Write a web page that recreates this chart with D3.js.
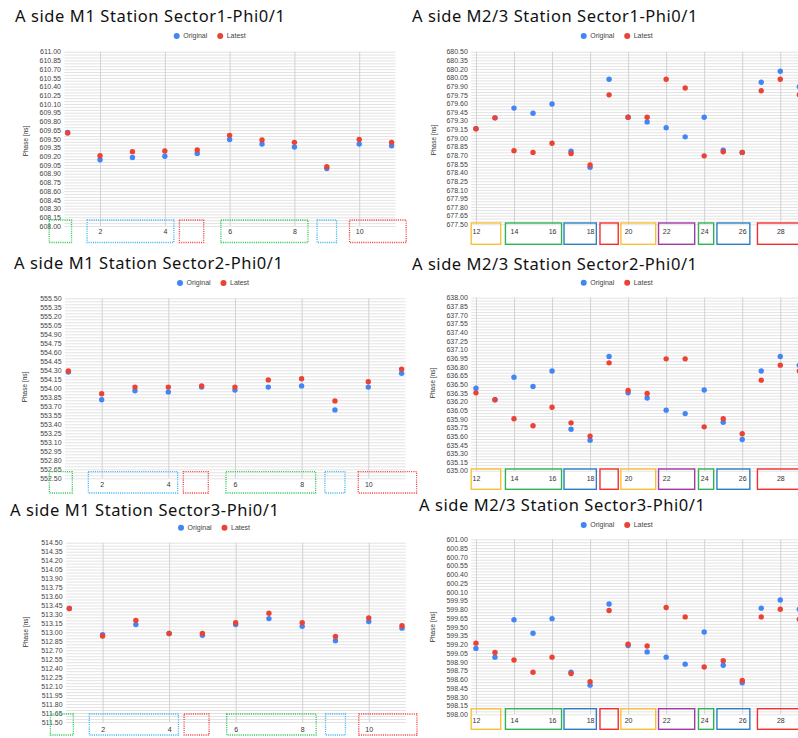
<!DOCTYPE html>
<html>
<head>
<meta charset="utf-8">
<script src="https://cdn.jsdelivr.net/npm/d3@7"></script>
<style>
  html, body { margin: 0; padding: 0; background: #fff; }
  svg { display: block; }
  .tick-y text { font-family: "Liberation Sans", Arial, sans-serif; font-size: 7px; fill: #444; }
  .tick-x text { font-family: "Liberation Sans", Arial, sans-serif; font-size: 7px; fill: #333; }
  .legend text { font-family: "Liberation Sans", Arial, sans-serif; font-size: 7px; fill: #444; }
  .ytitle { font-family: "Liberation Sans", Arial, sans-serif; font-size: 6.5px; fill: #333; }
  .title { font-family: "Noto Sans", sans-serif; font-size: 16.5px; fill: #111; }
</style>
</head>
<body>
<svg id="chart" width="798" height="738"></svg>
<script>
// ---- channels (x categories) ----
const channelsM1  = [1, 2, 3, 4, 5, 6, 7, 8, 9, 10, 11];
const channelsM23 = [12, 13, 14, 15, 16, 17, 18, 19, 20, 21, 22, 23, 24, 25, 26, 27, 28, 29];

// ---- x tick labels ----
const xTicksM1  = [2, 4, 6, 8, 10];
const xTicksM23 = [12, 14, 16, 18, 20, 22, 24, 26, 28];

// ---- phase values [ns] ----
const m1s1Original = [609.61, 609.14, 609.18, 609.20, 609.25, 609.49, 609.41, 609.36, 608.99, 609.41, 609.38];
const m1s1Latest   = [609.60, 609.21, 609.28, 609.29, 609.31, 609.56, 609.48, 609.44, 609.02, 609.49, 609.44];

const m23s1Original = [679.16, 679.35, 679.52, 679.43, 679.59, 678.77, 678.49, 680.02, 679.36, 679.28, 679.18, 679.02, 679.36, 678.79, 678.75, 679.97, 680.16, 679.89];
const m23s1Latest   = [679.16, 679.35, 678.78, 678.75, 678.91, 678.73, 678.53, 679.75, 679.36, 679.36, 680.02, 679.87, 678.69, 678.76, 678.75, 679.82, 680.02, 679.75];

const m1s2Original = [554.27, 553.81, 553.96, 553.94, 554.02, 553.97, 554.02, 554.04, 553.64, 554.02, 554.25];
const m1s2Latest   = [554.29, 553.91, 554.02, 554.02, 554.04, 554.02, 554.14, 554.16, 553.79, 554.11, 554.32];

const m23s2Original = [636.43, 636.23, 636.62, 636.46, 636.73, 635.72, 635.53, 636.98, 636.35, 636.26, 636.05, 635.99, 636.40, 635.84, 635.54, 636.73, 636.98, 636.83];
const m23s2Latest   = [636.35, 636.23, 635.90, 635.78, 636.10, 635.83, 635.60, 636.87, 636.39, 636.34, 636.94, 636.94, 635.76, 635.90, 635.64, 636.57, 636.83, 636.73];

const m1s3Original = [513.40, 512.96, 513.13, 512.98, 512.95, 513.13, 513.23, 513.10, 512.86, 513.18, 513.07];
const m1s3Latest   = [513.40, 512.94, 513.20, 512.98, 512.98, 513.16, 513.32, 513.16, 512.93, 513.24, 513.11];

const m23s3Original = [599.13, 598.98, 599.62, 599.39, 599.64, 598.72, 598.50, 599.89, 599.18, 599.07, 598.98, 598.86, 599.41, 598.84, 598.54, 599.82, 599.96, 599.80];
const m23s3Latest   = [599.22, 599.06, 598.93, 598.72, 598.98, 598.70, 598.56, 599.78, 599.20, 599.17, 599.83, 599.67, 598.81, 598.92, 598.58, 599.67, 599.80, 599.63];

// ---- y ranges [ns] and tick steps ----
const yRangeM1S1  = [608.00, 611.00];
const yRangeM23S1 = [677.50, 680.50];
const yRangeM1S2  = [552.50, 555.50];
const yRangeM23S2 = [635.00, 638.00];
const yRangeM1S3  = [511.50, 514.50];
const yRangeM23S3 = [598.00, 601.00];
const yLabelStep = 0.15;
const yGridStep  = 0.05;

// ---- channel groupings outlined under the x axis (channel ranges) ----
const groupsM1  = [[0.43, 1.12], [1.6, 4.28], [4.45, 5.2], [5.73, 8.42], [8.7, 9.3], [9.7, 11.45]];
const groupsM23 = [[11.75, 13.3], [13.55, 16.5], [16.63, 18.33], [18.52, 19.48], [19.62, 21.45],
                   [21.6, 23.5], [23.7, 24.5], [24.67, 26.4], [26.8, 30.5]];

// ---- styles ----
const colorOriginal = "#4285f4";
const colorLatest   = "#ea4335";
const groupColorsM1  = ["#35c759", "#45b8f0", "#f24848", "#35c759", "#45b8f0", "#f24848"];
const groupColorsM23 = ["#f8c13a", "#2fb454", "#2f7fc4", "#f52f2f", "#f8c13a", "#a03aa6", "#2fb454", "#2f7fc4", "#f52f2f"];

const panels = [
  { title: "A side M1 Station Sector1-Phi0/1", x: channelsM1, orig: m1s1Original, latest: m1s1Latest,
    yRange: yRangeM1S1, xTicks: xTicksM1, groups: groupsM1, groupColors: groupColorsM1, dotted: true,
    xDomain: [0.9, 11.12],
    L: 64.4, R: 395.5, T: 51.7, B: 226, labelY: 231.7, boxY: [220, 242.5],
    titleX: 15, titleY: 21.7, titleW: 270, legendX: 176.7, legendY: 36, yTitleX: 26, yTitleY: 141 },
  { title: "A side M2/3 Station Sector1-Phi0/1", x: channelsM23, orig: m23s1Original, latest: m23s1Latest,
    yRange: yRangeM23S1, xTicks: xTicksM23, groups: groupsM23, groupColors: groupColorsM23, dotted: false,
    xDomain: [11.75, 29.3],
    L: 471.2, R: 805, T: 51.7, B: 224.3, labelY: 231.7, boxY: [223, 244.3],
    titleX: 412, titleY: 21.7, titleW: 285.5, legendX: 583.7, legendY: 36, yTitleX: 433.3, yTitleY: 140 },
  { title: "A side M1 Station Sector2-Phi0/1", x: channelsM1, orig: m1s2Original, latest: m1s2Latest,
    yRange: yRangeM1S2, xTicks: xTicksM1, groups: groupsM1, groupColors: groupColorsM1, dotted: true,
    xDomain: [0.9, 11.12],
    L: 65, R: 405.6, T: 298.3, B: 478.3, labelY: 485, boxY: [471.7, 493],
    titleX: 14, titleY: 269, titleW: 269, legendX: 180, legendY: 283, yTitleX: 25, yTitleY: 387 },
  { title: "A side M2/3 Station Sector2-Phi0/1", x: channelsM23, orig: m23s2Original, latest: m23s2Latest,
    yRange: yRangeM23S2, xTicks: xTicksM23, groups: groupsM23, groupColors: groupColorsM23, dotted: false,
    xDomain: [11.75, 29.3],
    L: 471.2, R: 805, T: 297.7, B: 470.7, labelY: 478.3, boxY: [469, 489.3],
    titleX: 412, titleY: 270, titleW: 285, legendX: 583.7, legendY: 282.7, yTitleX: 433, yTitleY: 383 },
  { title: "A side M1 Station Sector3-Phi0/1", x: channelsM1, orig: m1s3Original, latest: m1s3Latest,
    yRange: yRangeM1S3, xTicks: xTicksM1, groups: groupsM1, groupColors: groupColorsM1, dotted: true,
    xDomain: [0.9, 11.12],
    L: 66, R: 406, T: 542.7, B: 722, labelY: 729.3, boxY: [714, 735],
    titleX: 10, titleY: 515.7, titleW: 269, legendX: 181, legendY: 527.7, yTitleX: 26, yTitleY: 632 },
  { title: "A side M2/3 Station Sector3-Phi0/1", x: channelsM23, orig: m23s3Original, latest: m23s3Latest,
    yRange: yRangeM23S3, xTicks: xTicksM23, groups: groupsM23, groupColors: groupColorsM23, dotted: false,
    xDomain: [11.75, 29.3],
    L: 471.2, R: 805, T: 539.3, B: 714.3, labelY: 720.3, boxY: [708.7, 729.3],
    titleX: 419, titleY: 511, titleW: 286, legendX: 583.7, legendY: 525, yTitleX: 433, yTitleY: 627 }
];

const svg = d3.select("#chart");

panels.forEach((p, idx) => {
  const g = svg.append("g").attr("class", "panel");

  const x = d3.scaleLinear().domain(p.xDomain).range([p.L, p.R]);
  const y = d3.scaleLinear().domain(p.yRange).range([p.B, p.T]);

  const clipId = "clip" + idx;
  g.append("clipPath").attr("id", clipId)
    .append("rect").attr("x", p.L).attr("y", p.T - 6).attr("width", p.R - p.L).attr("height", p.B - p.T + 12);

  // title
  g.append("text").attr("class", "title")
    .attr("x", p.titleX).attr("y", p.titleY)
    .attr("textLength", p.titleW)
    .text(p.title);

  // legend
  const lg = g.append("g").attr("class", "legend");
  [["Original", colorOriginal, 0], ["Latest", colorLatest, 43.5]].forEach(([name, col, dx]) => {
    lg.append("circle").attr("cx", p.legendX + dx).attr("cy", p.legendY).attr("r", 3).attr("fill", col);
    lg.append("text").attr("x", p.legendX + dx + 6.5).attr("y", p.legendY).attr("dy", "0.35em").text(name);
  });

  // horizontal grid (every 0.05)
  const nGrid = Math.round((p.yRange[1] - p.yRange[0]) / yGridStep);
  const gridVals = d3.range(nGrid + 1).map(i => p.yRange[0] + i * yGridStep);
  const hGrid = g.append("g")
    .attr("transform", `translate(${p.L},0)`)
    .call(d3.axisLeft(y).tickValues(gridVals).tickSize(-(p.R - p.L)).tickFormat(""));
  hGrid.select(".domain").remove();
  hGrid.selectAll("line").attr("stroke", "#e3e3e3").attr("stroke-width", 1);

  // vertical grid at labelled channels
  const vGrid = g.append("g")
    .attr("transform", `translate(0,${p.B})`)
    .call(d3.axisBottom(x).tickValues(p.xTicks).tickSize(-(p.B - p.T)).tickFormat(""));
  vGrid.select(".domain").remove();
  vGrid.selectAll("line").attr("stroke", "#d2d2d2").attr("stroke-width", 1);

  // y tick labels (every 0.15)
  const nLab = Math.round((p.yRange[1] - p.yRange[0]) / yLabelStep);
  const labVals = d3.range(nLab + 1).map(i => p.yRange[0] + i * yLabelStep);
  const yAx = g.append("g").attr("class", "tick-y")
    .attr("transform", `translate(${p.L},0)`)
    .call(d3.axisLeft(y).tickValues(labVals).tickSize(0).tickPadding(3.4).tickFormat(d3.format(".2f")));
  yAx.select(".domain").remove();

  // y axis title
  g.append("text").attr("class", "ytitle")
    .attr("transform", `translate(${p.yTitleX},${p.yTitleY}) rotate(-90)`)
    .attr("text-anchor", "middle").attr("dy", "0.35em")
    .text("Phase [ns]");

  // channel group outlines
  g.append("g").selectAll("rect").data(p.groups).join("rect")
    .attr("x", d => x(d[0]))
    .attr("y", p.boxY[0])
    .attr("width", d => x(d[1]) - x(d[0]))
    .attr("height", p.boxY[1] - p.boxY[0])
    .attr("fill", "none")
    .attr("stroke", (d, i) => p.groupColors[i])
    .attr("stroke-width", p.dotted ? 1.3 : 1.4)
    .attr("stroke-dasharray", p.dotted ? "1.1,1.1" : null);

  // x tick labels
  const xAx = g.append("g").attr("class", "tick-x")
    .attr("transform", `translate(0,${p.labelY})`)
    .call(d3.axisBottom(x).tickValues(p.xTicks).tickSize(0).tickPadding(0).tickFormat(d3.format("d")));
  xAx.select(".domain").remove();
  xAx.selectAll("text").attr("dy", "0.35em").attr("y", 0);

  // points: original first, latest drawn over it
  const pts = g.append("g");
  pts.selectAll("circle.orig").data(p.x).join("circle").attr("class", "orig")
    .attr("cx", d => x(d)).attr("cy", (d, i) => y(p.orig[i])).attr("r", 2.7).attr("fill", colorOriginal);
  pts.selectAll("circle.latest").data(p.x).join("circle").attr("class", "latest")
    .attr("cx", d => x(d)).attr("cy", (d, i) => y(p.latest[i])).attr("r", 2.7).attr("fill", colorLatest);
});
</script>
</body>
</html>
